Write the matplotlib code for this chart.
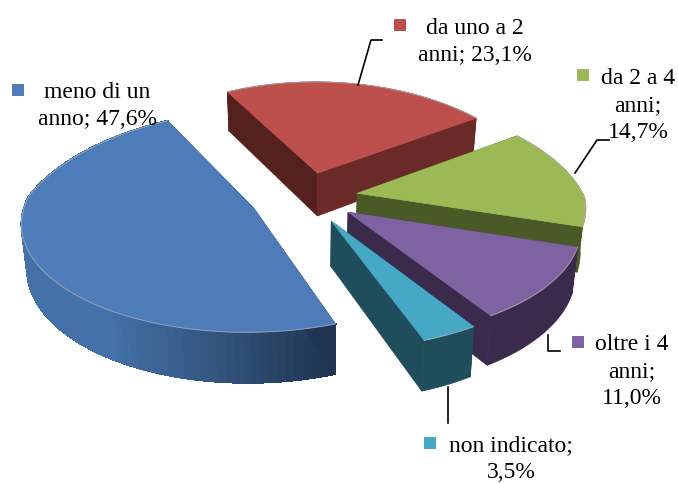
import numpy as np
import matplotlib
matplotlib.use("Agg")
import matplotlib.pyplot as plt
from matplotlib.colors import to_rgb
from matplotlib.patches import Polygon, Rectangle

# data
labels = ["meno di un\nanno; {}", "da uno a 2\nanni; {}", "da 2 a 4\nanni;\n{}",
          "oltre i 4\nanni;\n{}", "non indicato;\n{}"]
values = [47.6, 23.1, 14.7, 11.0, 3.5]

# colours
top_col = ["#4d7cb9", "#bd4f4c", "#9bba56", "#7f62a1", "#45a9c6"]
wall_col = ["#4472a8", "#6a2a28", "#4a5a27", "#3a2a4c", "#1f4d5b"]
wall_end = ["#1f3552", "#6a2a28", "#4a5a27", "#3a2a4c", "#1f4d5b"]
cut_col = ["#1f3552", "#6a2a28", "#4a5a27", "#3a2a4c", "#1f4d5b"]
cut2_col = ["#1f3552", "#54211e", "#4a5a27", "#3a2a4c", "#1f4d5b"]

# pie set up, pixels of the figure
explode = [0.25, 0.235, 0.23, 0.23, 0.245]
start = -70.0
cx, cy = 306, 197
f, g, p = 227, 107, 0.116
p_back = 0.2  # back of the pie narrows a bit faster than it flattens
depth = 44


def project(u, v):
    k = 1 / (1 + p * v)
    kx = 1 / (1 + np.where(v > 0, p_back, p) * v)
    return cx + f * u * kx, cy - g * v * k, k


def lower(x, y, k):
    # same point on the underside of the slice
    return cx + (x - cx) * 0.98, y + depth * k


fig = plt.figure(figsize=(6.78, 4.83), dpi=100)
ax = fig.add_axes([0, 0, 1, 1])
ax.set_xlim(0, 678)
ax.set_ylim(483, 0)
ax.axis("off")

angles = start - np.cumsum([0] + [v / sum(values) * 360 for v in values])
slices = []
for i in range(len(values)):
    a0, a1 = angles[i], angles[i + 1]
    mid = np.radians((a0 + a1) / 2)
    u0 = explode[i] * np.cos(mid)
    v0 = explode[i] * np.sin(mid)
    t = np.radians(np.linspace(a0, a1, 90))
    slices.append((u0, v0, t))

# blue last, it doesn't touch the others, cyan on top of purple on top of green
for i in [1, 2, 3, 4, 0]:
    u0, v0, t = slices[i]
    x, y, k = project(u0 + np.cos(t), v0 + np.sin(t))
    xb, yb = lower(x, y, k)
    ax0, ay0, ak = project(u0, v0)
    bx0, by0 = lower(ax0, ay0, ak)

    # outer wall, blue one fades so it goes strip by strip
    if i == 0:
        c0 = np.array(to_rgb(wall_col[i]))
        c1 = np.array(to_rgb(wall_end[i]))
        for j in range(len(t) - 1):
            s = np.clip((x[j] - 110) / (333 - 110), 0, 1)
            pts = [(x[j], y[j]), (x[j + 1], y[j + 1]), (xb[j + 1], yb[j + 1]), (xb[j], yb[j])]
            col = c0 + (c1 - c0) * s
            ax.add_patch(Polygon(pts, closed=True, fc=col, ec=col, lw=0.8, antialiased=False, zorder=2))
    else:
        pts = np.column_stack([np.r_[x, xb[::-1]], np.r_[y, yb[::-1]]])
        ax.add_patch(Polygon(pts, closed=True, fc=wall_col[i], ec=wall_col[i], lw=0.5, zorder=2))

    # the two cut faces
    ax.add_patch(Polygon([(ax0, ay0), (x[0], y[0]), (xb[0], yb[0]), (bx0, by0)],
                         closed=True, fc=cut2_col[i], ec=cut2_col[i], lw=0.5, zorder=2))
    ax.add_patch(Polygon([(ax0, ay0), (x[-1], y[-1]), (xb[-1], yb[-1]), (bx0, by0)],
                         closed=True, fc=cut_col[i], ec=cut_col[i], lw=0.5, zorder=2))

    # top
    ax.add_patch(Polygon(np.column_stack([np.r_[ax0, x], np.r_[ay0, y]]), closed=True,
                         fc=top_col[i], ec=top_col[i], lw=0.5, zorder=2))
    ax.plot(x, y, color="#b5b5b5", lw=0.7, alpha=0.7, zorder=2)

# leader lines
ax.plot([358, 371, 382], [85, 40, 40], color="black", lw=1.2, zorder=3)
ax.plot([575, 597, 609], [173, 140, 140], color="black", lw=1.2, zorder=3)
ax.plot([548, 548, 560], [335, 351, 351], color="black", lw=1.2, zorder=3)
ax.plot([448, 448], [387, 423], color="black", lw=1.2, zorder=3)

# labels
marker_pos = [(12, 84), (394, 19), (577, 69), (572, 336), (424, 437)]
text_pos = [(97, 91), (475, 27), (638, 77), (632, 343), (511, 444)]
for i, v in enumerate(values):
    mx, my = marker_pos[i]
    ax.add_patch(Rectangle((mx, my), 12, 12, fc=top_col[i], ec="none", zorder=4))
    txt = labels[i].format(f"{v:.1f}".replace(".", ",") + "%")
    tx, ty = text_pos[i]
    ax.text(tx, ty - 9, txt, ha="center", va="top", fontsize=17, family="Liberation Serif",
            linespacing=1.36, color="black", zorder=5)

fig.savefig("out.png", dpi=100)
